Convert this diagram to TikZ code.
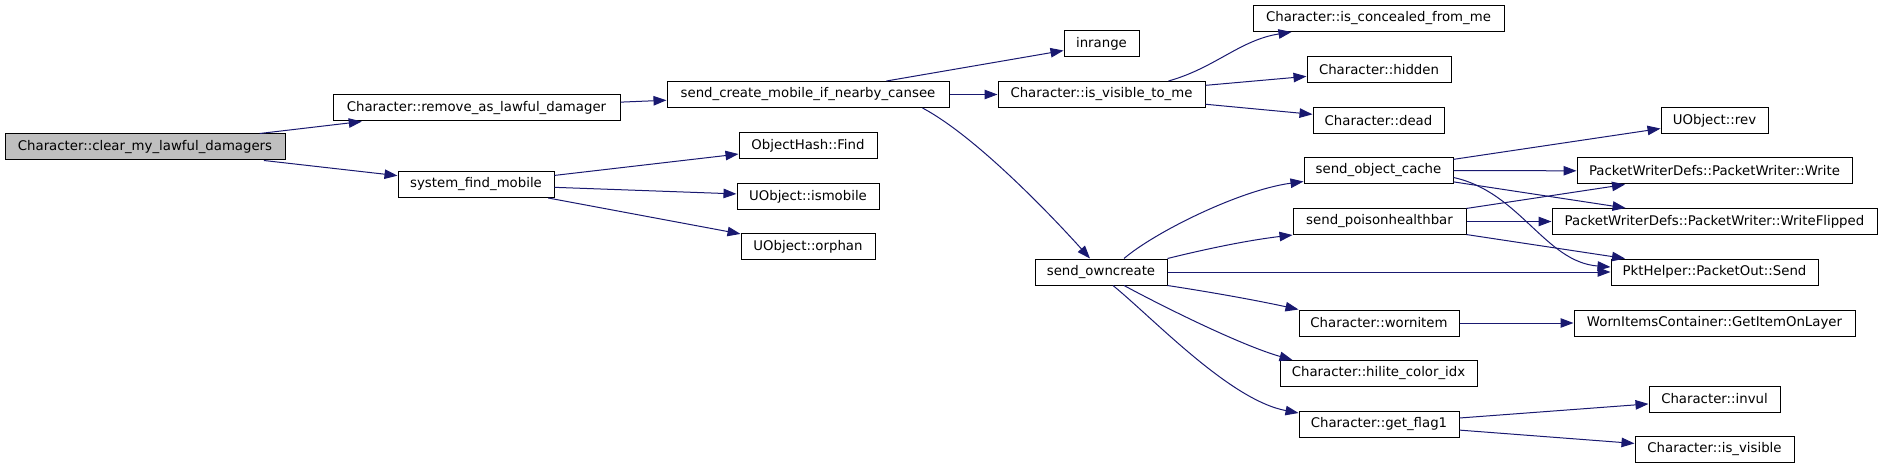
\documentclass[tikz,border=0pt]{standalone}
\usepackage{fontspec}
\setmainfont{DejaVu Sans}
\usetikzlibrary{arrows.meta}
\definecolor{edgeblue}{HTML}{191970}
\definecolor{rootgray}{HTML}{BFBFBF}

\begin{document}
\begin{tikzpicture}[x=1pt, y=-1pt, font=\fontsize{13.3}{15}\selectfont,
  fn/.style={rectangle, draw, fill=white, line width=1pt, inner sep=0pt, minimum height=26pt},
  call/.style={edgeblue, line width=1pt, -{Triangle[length=13pt, width=9.5pt]}}]
  \useasboundingbox (0,0) rectangle (1883,468);

  % Define vertices
  \node[fn, fill=rootgray, minimum width=280pt] (clear) at (145,147) {Character::clear\_my\_lawful\_damagers};
  \node[fn, minimum width=287pt] (remove) at (476.5,108) {Character::remove\_as\_lawful\_damager};
  \node[fn, minimum width=156pt] (sysfind) at (476,184.5) {system\_find\_mobile};
  \node[fn, minimum width=282pt] (sendcreate) at (808,94.5) {send\_create\_mobile\_if\_nearby\_cansee};
  \node[fn, minimum width=138pt] (objfind) at (808,146) {ObjectHash::Find};
  \node[fn, minimum width=142pt] (ismobile) at (808,196.5) {UObject::ismobile};
  \node[fn, minimum width=134pt] (orphan) at (808,246.5) {UObject::orphan};
  \node[fn, minimum width=75pt] (inrange) at (1101.5,44) {inrange};
  \node[fn, minimum width=207pt] (visibletome) at (1101.5,94.5) {Character::is\_visible\_to\_me};
  \node[fn, minimum width=132pt] (owncreate) at (1101,272) {send\_owncreate};
  \node[fn, minimum width=251pt] (concealed) at (1378.5,18.5) {Character::is\_concealed\_from\_me};
  \node[fn, minimum width=144pt] (hidden) at (1379,70) {Character::hidden};
  \node[fn, minimum width=131pt] (dead) at (1378.5,120.5) {Character::dead};
  \node[fn, minimum width=149pt] (objcache) at (1378.5,170.5) {send\_object\_cache};
  \node[fn, minimum width=173pt] (poison) at (1379.5,221.5) {send\_poisonhealthbar};
  \node[fn, minimum width=160pt] (wornitem) at (1379,323) {Character::wornitem};
  \node[fn, minimum width=197pt] (hilite) at (1378.5,373.5) {Character::hilite\_color\_idx};
  \node[fn, minimum width=160pt] (getflag) at (1379,424) {Character::get\_flag1};
  \node[fn, minimum width=107pt] (rev) at (1714.5,120.5) {UObject::rev};
  \node[fn, minimum width=275pt] (write) at (1714.5,171) {PacketWriterDefs::PacketWriter::Write};
  \node[fn, minimum width=325pt] (writeflipped) at (1714.5,221.5) {PacketWriterDefs::PacketWriter::WriteFlipped};
  \node[fn, minimum width=207pt] (send) at (1714.5,272) {PktHelper::PacketOut::Send};
  \node[fn, minimum width=281pt] (getitem) at (1714.5,323) {WornItemsContainer::GetItemOnLayer};
  \node[fn, minimum width=131pt] (invul) at (1714.5,399) {Character::invul};
  \node[fn, minimum width=159pt] (isvisible) at (1714.5,449.5) {Character::is\_visible};

  % Draw edges
  \draw[call] (clear) -- (remove);
  \draw[call] (clear) -- (sysfind);
  \draw[call] (remove) -- (sendcreate);
  \draw[call] (sysfind) -- (objfind);
  \draw[call] (sysfind) -- (ismobile);
  \draw[call] (sysfind) -- (orphan);
  \draw[call] (sendcreate) -- (inrange);
  \draw[call] (sendcreate) -- (visibletome);
  \draw[call] ([xshift=-27pt]sendcreate.south east) .. controls (979,138) and (1060,225) .. ([xshift=-11pt]owncreate.north);
  \draw[call] ([xshift=-37pt]visibletome.north east) .. controls (1215,68) and (1240,40) .. ([xshift=39pt]concealed.south west);
  \draw[call] (visibletome) -- (hidden);
  \draw[call] (visibletome) -- (dead);
  \draw[call] ([xshift=23pt]owncreate.north) .. controls (1155,232) and (1240,190) .. ([yshift=-11pt]objcache.west);
  \draw[call] (owncreate.north east) .. controls (1210,248) and (1250,240) .. (poison.south west);
  \draw[call] (owncreate) -- (send);
  \draw[call] (owncreate.south east) .. controls (1210,292) and (1255,300) .. (wornitem.north west);
  \draw[call] ([xshift=23pt]owncreate.south) .. controls (1160,305) and (1240,345) .. ([xshift=13pt]hilite.north west);
  \draw[call] ([xshift=12pt]owncreate.south) .. controls (1155,320) and (1230,400) .. ([yshift=11pt]getflag.west);
  \draw[call] (objcache) -- (rev);
  \draw[call] (objcache) -- (write);
  \draw[call] (objcache) -- (writeflipped);
  \draw[call] ([yshift=-7pt]objcache.east) .. controls (1520,192) and (1545,262) .. ([yshift=5pt]send.west);
  \draw[call] (poison) -- (write);
  \draw[call] (poison) -- (writeflipped);
  \draw[call] (poison) -- (send);
  \draw[call] (wornitem) -- (getitem);
  \draw[call] (getflag) -- (invul);
  \draw[call] (getflag) -- (isvisible);

\end{tikzpicture}
\end{document}
